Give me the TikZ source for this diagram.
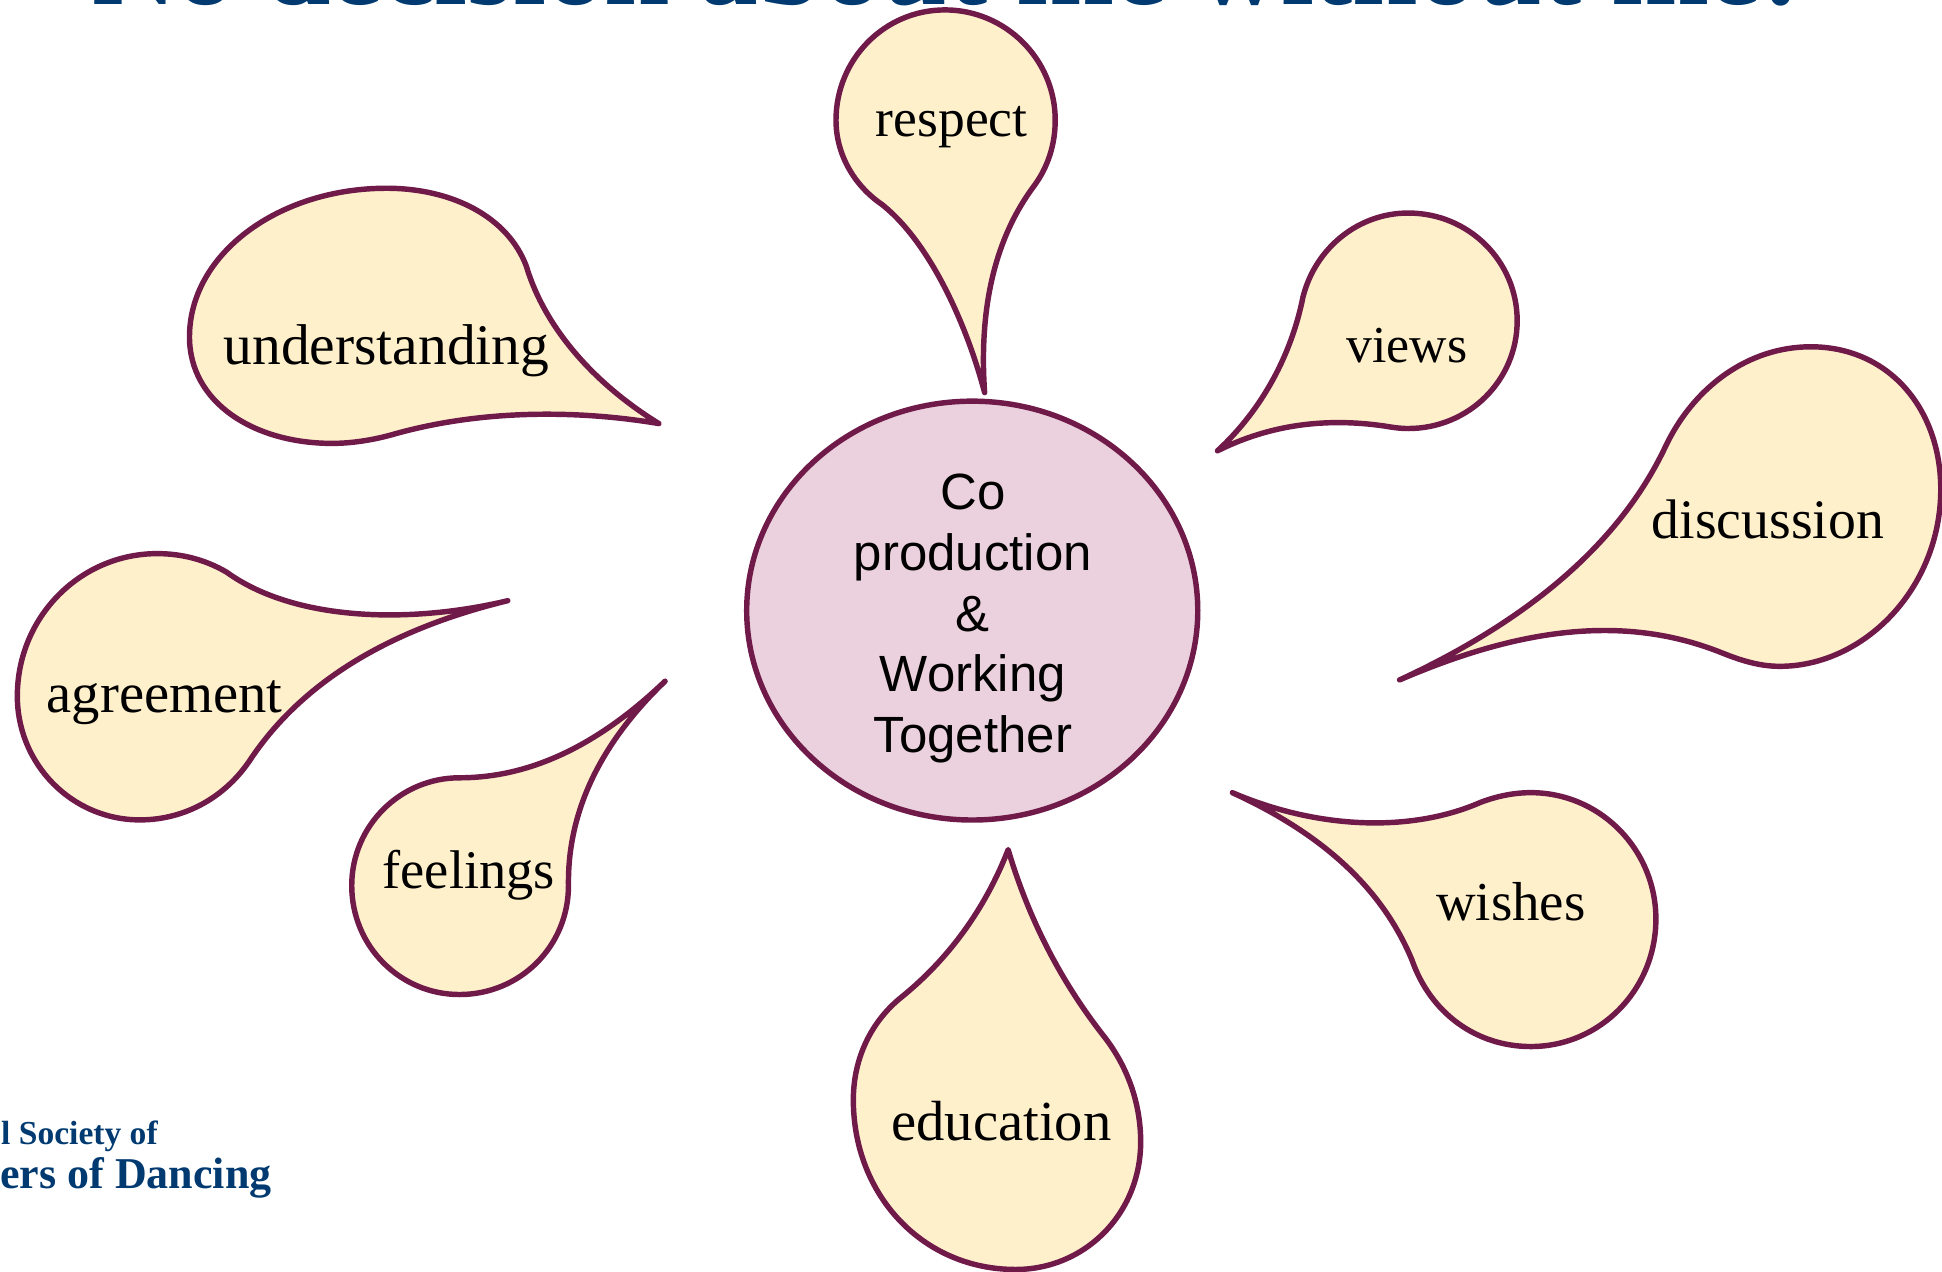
\documentclass[tikz,border=0pt]{standalone}
\usepackage{fontspec}
\setmainfont{Liberation Serif}
\setsansfont{Liberation Sans}
\definecolor{rim}{HTML}{701A4A}
\definecolor{petal}{HTML}{FFF0CC}
\definecolor{hub}{HTML}{EBD1DD}
\definecolor{navy}{HTML}{003A70}
\usetikzlibrary{shapes.geometric}
\tikzset{
  petalshape/.style={draw=rim,fill=petal,line width=1.25pt,line join=round},
  word/.style 2 args={anchor=base,inner sep=0pt,font=\fontsize{#1}{#2}\selectfont,text=black},
  hubshape/.style={ellipse,draw=rim,fill=hub,line width=1.25pt,minimum width=3.64cm,minimum height=3.38cm,inner sep=0pt},
}
\begin{document}
\begin{tikzpicture}[x=0.01cm,y=-0.01cm]
\useasboundingbox (0,0) rectangle (1568,1027);
\node[anchor=base,inner sep=0pt,text=navy] (title) at (764,4) {\fontsize{27}{30}\selectfont\bfseries No decision about me without me!};
% petals
\path[petalshape] (795,317) .. controls (780,260) and (750,195) .. (712,165) .. controls (690,150) and (675,125) .. (675,97) .. controls (675,48) and (714,8) .. (763,8) .. controls (812,8) and (852,48) .. (852,97) .. controls (852,117) and (846,135) .. (835,150) .. controls (805,190) and (790,245) .. (795,317) -- cycle;
\path[petalshape] (532,342) .. controls (480,310) and (440,265) .. (425,215) .. controls (410,175) and (365,152) .. (312,152) .. controls (225,152) and (153,205) .. (153,272) .. controls (153,325) and (205,358) .. (268,358) .. controls (285,358) and (303,355) .. (320,350) .. controls (385,332) and (460,330) .. (532,342) -- cycle;
\path[petalshape] (983,364) .. controls (1020,330) and (1043,285) .. (1052,240) .. controls (1062,200) and (1097,172) .. (1137,172) .. controls (1186,172) and (1225,211) .. (1225,259) .. controls (1225,307) and (1186,346) .. (1137,346) .. controls (1130,346) and (1124,345) .. (1118,344) .. controls (1070,337) and (1025,343) .. (983,364) -- cycle;
\path[petalshape] (1130,549) .. controls (1225,505) and (1305,445) .. (1345,360) .. controls (1368,312) and (1412,280) .. (1462,280) .. controls (1525,280) and (1567,330) .. (1567,395) .. controls (1567,475) and (1505,538) .. (1437,538) .. controls (1420,538) and (1405,533) .. (1390,527) .. controls (1310,495) and (1225,508) .. (1130,549) -- cycle;
\path[petalshape] (995,640) .. controls (1065,670) and (1140,672) .. (1195,648) .. controls (1208,643) and (1222,640) .. (1236,640) .. controls (1292,640) and (1337,686) .. (1337,742) .. controls (1337,799) and (1292,845) .. (1236,845) .. controls (1192,845) and (1155,818) .. (1140,775) .. controls (1115,715) and (1065,672) .. (995,640) -- cycle;
\path[petalshape] (814,686) .. controls (830,740) and (855,790) .. (890,835) .. controls (910,860) and (921,890) .. (921,922) .. controls (921,980) and (876,1025) .. (820,1025) .. controls (745,1025) and (689,965) .. (689,888) .. controls (689,855) and (703,825) .. (728,805) .. controls (765,775) and (795,735) .. (814,686) -- cycle;
\path[petalshape] (537,550) .. controls (490,595) and (458,650) .. (459,715) .. controls (459,764) and (420,803) .. (371,803) .. controls (323,803) and (284,764) .. (284,715) .. controls (284,667) and (323,628) .. (371,628) .. controls (435,628) and (490,595) .. (537,550) -- cycle;
\path[petalshape] (410,485) .. controls (335,503) and (240,503) .. (183,462) .. controls (166,452) and (147,447) .. (127,447) .. controls (65,447) and (14,498) .. (14,562) .. controls (14,617) and (58,662) .. (113,662) .. controls (150,662) and (183,643) .. (203,612) .. controls (245,550) and (315,508) .. (410,485) -- cycle;
% hub
\node[hubshape] (hub) at (785,493) {};
\node[inner sep=0pt,align=center,font=\sffamily\fontsize{11.7}{13.94}\selectfont] (hubtext) at (785.5,499.5) {Co\\production\\\&\\Working\\Together};
% words
\node[word={12.3}{14}] (respect) at (768.5,110) {respect};
\node[word={13.2}{15}] (understanding) at (312,294) {understanding};
\node[word={11.9}{14}] (views) at (1136,293) {views};
\node[word={12.8}{15}] (discussion) at (1427.5,435) {discussion};
\node[word={12.6}{15}] (wishes) at (1220,743) {wishes};
\node[word={13}{15}] (education) at (808.5,921) {education};
\node[word={12.5}{15}] (feelings) at (378.5,717) {feelings};
\node[word={13}{15}] (agreement) at (133,575) {agreement};
% logo
\node[anchor=base east,inner sep=0pt,text=navy,font=\bfseries\fontsize{7.7}{8}\selectfont] (logoa) at (128,924) {l Society of};
\node[anchor=base east,inner sep=0pt,text=navy,font=\bfseries\fontsize{10.1}{11}\selectfont] (logob) at (220,960) {ers of Dancing};
\end{tikzpicture}
\end{document}
